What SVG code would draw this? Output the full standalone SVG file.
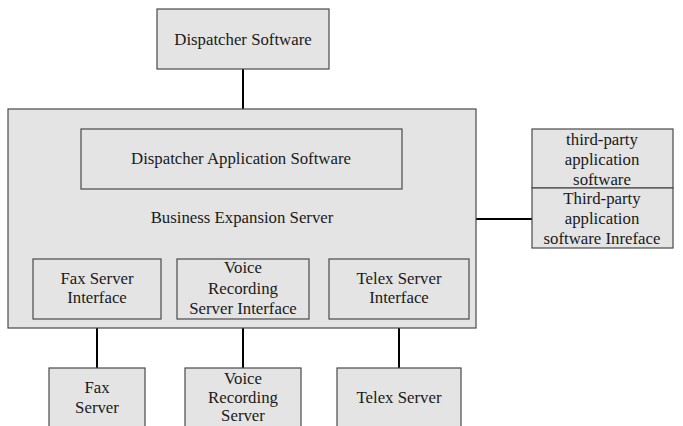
<svg xmlns="http://www.w3.org/2000/svg" width="683" height="426" viewBox="0 0 683 426">
  <style>
    .box { fill: #e4e4e4; stroke: #4a4a4a; stroke-width: 1.2; }
    .inner { fill: none; stroke: #4a4a4a; stroke-width: 1.2; }
    .lbl { font-family: "Liberation Serif", "Times New Roman", serif; font-size: 16.8px; fill: #1a1a1a; text-anchor: middle; }
    .wire { stroke: #000; stroke-width: 2; fill: none; }
  </style>
  <rect width="683" height="426" fill="#fff"/>

  <g id="connectors">
    <line class="wire" x1="243" y1="69" x2="243" y2="109"/>
    <line class="wire" x1="476" y1="219" x2="532" y2="219"/>
    <line class="wire" x1="97" y1="319" x2="97" y2="368"/>
    <line class="wire" x1="243" y1="319" x2="243" y2="368"/>
    <line class="wire" x1="399" y1="319" x2="399" y2="368"/>
  </g>

  <g id="dispatcher-software">
    <rect class="box" x="157" y="9" width="172" height="60"/>
    <text class="lbl" x="243" y="45">Dispatcher Software</text>
  </g>

  <g id="business-expansion-server">
    <rect class="box" x="8" y="109" width="468" height="219"/>
    <text class="lbl" x="242" y="223">Business Expansion Server</text>
  </g>

  <g id="dispatcher-application-software">
    <rect class="inner" x="81" y="129" width="321" height="60"/>
    <text class="lbl" x="241" y="164">Dispatcher Application Software</text>
  </g>

  <g id="fax-server-interface">
    <rect class="inner" x="33" y="259" width="128" height="60"/>
    <text class="lbl" x="97" y="284">Fax Server</text>
    <text class="lbl" x="97" y="303">Interface</text>
  </g>

  <g id="voice-recording-server-interface">
    <rect class="inner" x="177" y="259" width="132" height="60"/>
    <text class="lbl" x="243" y="273">Voice</text>
    <text class="lbl" x="243" y="294">Recording</text>
    <text class="lbl" x="243" y="314">Server Interface</text>
  </g>

  <g id="telex-server-interface">
    <rect class="inner" x="329" y="259" width="140" height="60"/>
    <text class="lbl" x="399" y="284">Telex Server</text>
    <text class="lbl" x="399" y="303">Interface</text>
  </g>

  <g id="third-party-application-software">
    <rect class="box" x="532" y="129" width="141" height="59"/>
    <text class="lbl" x="602" y="145">third-party</text>
    <text class="lbl" x="602" y="165">application</text>
    <text class="lbl" x="602" y="185">software</text>
  </g>

  <g id="third-party-interface">
    <rect class="box" x="532" y="188" width="141" height="60"/>
    <text class="lbl" x="602" y="204">Third-party</text>
    <text class="lbl" x="602" y="224">application</text>
    <text class="lbl" x="602" y="244">software Inreface</text>
  </g>

  <g id="fax-server">
    <rect class="box" x="49" y="368" width="96" height="66"/>
    <text class="lbl" x="97" y="393">Fax</text>
    <text class="lbl" x="97" y="413">Server</text>
  </g>

  <g id="voice-recording-server">
    <rect class="box" x="185" y="368" width="116" height="66"/>
    <text class="lbl" x="243" y="384">Voice</text>
    <text class="lbl" x="243" y="403">Recording</text>
    <text class="lbl" x="243" y="421">Server</text>
  </g>

  <g id="telex-server">
    <rect class="box" x="337" y="368" width="124" height="66"/>
    <text class="lbl" x="399" y="403">Telex Server</text>
  </g>
</svg>
